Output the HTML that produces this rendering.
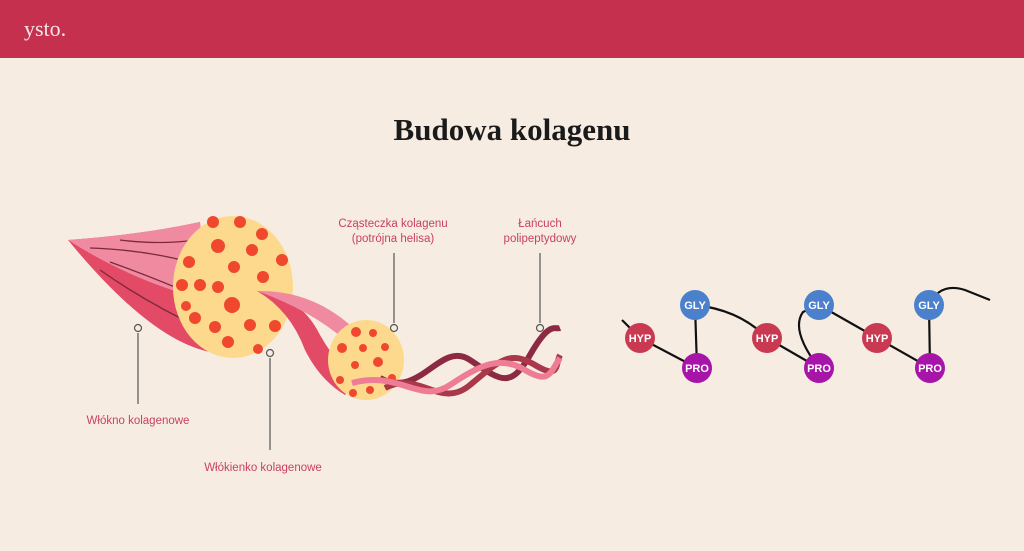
<!DOCTYPE html>
<html><head><meta charset="utf-8"><style>
body{margin:0;width:1024px;height:546px;overflow:hidden;background:#f6ece2;font-family:"Liberation Sans",sans-serif}
</style></head><body>
<svg width="1024" height="546" viewBox="0 0 1024 546" xmlns="http://www.w3.org/2000/svg">
<rect width="1024" height="546" fill="#f6ece2"/>
<rect width="1024" height="58" fill="#c5304f"/>
<text x="24" y="36" font-family="Liberation Serif,serif" font-size="22" fill="#f6e6e6">ysto.</text>
<text x="512" y="140" text-anchor="middle" font-family="Liberation Serif,serif" font-size="31" font-weight="bold" fill="#1a1a1a">Budowa kolagenu</text>

<!-- big fiber -->
<path d="M68,240 Q140,235 200,222 L210,352 Q150,340 68,240 Z" fill="#e24a66"/>
<path d="M68,240 Q140,235 200,222 L205,300 Q130,280 68,240 Z" fill="#f08aa0"/>
<path d="M90,248 Q150,250 200,265 M110,262 Q160,280 205,300 M120,240 Q160,245 196,240 M100,270 Q150,305 205,330" stroke="#7a2a3a" stroke-width="1.3" fill="none"/>
<ellipse cx="233" cy="287" rx="60" ry="71" fill="#fcd98c"/>
<g fill="#f0482f">
<circle cx="213" cy="222" r="6"/><circle cx="240" cy="222" r="6"/><circle cx="262" cy="234" r="6"/>
<circle cx="218" cy="246" r="7"/><circle cx="252" cy="250" r="6"/><circle cx="282" cy="260" r="6"/>
<circle cx="189" cy="262" r="6"/><circle cx="234" cy="267" r="6"/><circle cx="263" cy="277" r="6"/>
<circle cx="200" cy="285" r="6"/><circle cx="232" cy="305" r="8"/><circle cx="182" cy="285" r="6"/>
<circle cx="195" cy="318" r="6"/><circle cx="215" cy="327" r="6"/><circle cx="250" cy="325" r="6"/>
<circle cx="275" cy="326" r="6"/><circle cx="228" cy="342" r="6"/><circle cx="258" cy="349" r="5"/>
<circle cx="186" cy="306" r="5"/><circle cx="218" cy="287" r="6"/>
</g>
<!-- small fiber -->
<path d="M257,291 Q300,295 320,335 Q340,370 360,380 L345,395 Q320,380 305,350 Q290,310 257,291 Z" fill="#e24a66"/>
<path d="M257,291 Q310,290 350,325 L345,340 Q310,310 257,291 Z" fill="#f08aa0"/>
<ellipse cx="366" cy="360" rx="38" ry="40" fill="#fcd98c"/>
<g fill="#f0482f">
<circle cx="356" cy="332" r="5"/><circle cx="373" cy="333" r="4"/><circle cx="342" cy="348" r="5"/>
<circle cx="363" cy="348" r="4"/><circle cx="385" cy="347" r="4"/><circle cx="378" cy="362" r="5"/>
<circle cx="355" cy="365" r="4"/><circle cx="340" cy="380" r="4"/><circle cx="370" cy="390" r="4"/>
<circle cx="392" cy="378" r="4"/><circle cx="353" cy="393" r="4"/>
</g>
<!-- helix -->
<path d="M380,378 C420,400 440,340 470,360 S510,390 530,355 S555,330 560,328" stroke="#8c2a44" stroke-width="6" fill="none"/>
<path d="M385,388 C420,370 440,410 470,385 S510,350 535,365 S555,365 560,355" stroke="#a8384a" stroke-width="6" fill="none"/>
<path d="M352,383 C400,370 420,405 450,385 S500,355 525,370 S550,372 560,358" stroke="#ef7c95" stroke-width="6" fill="none"/>

<!-- label lines -->
<g stroke="#555" stroke-width="1.2" fill="#f6ece2">
<line x1="138" y1="333" x2="138" y2="404"/><circle cx="138" cy="328" r="3.5"/>
<line x1="270" y1="358" x2="270" y2="450"/><circle cx="270" cy="353" r="3.5"/>
<line x1="394" y1="253" x2="394" y2="323"/><circle cx="394" cy="328" r="3.5"/>
<line x1="540" y1="253" x2="540" y2="323"/><circle cx="540" cy="328" r="3.5"/>
</g>
<g font-size="11.5" fill="#c8425e" text-anchor="middle">
<text x="138" y="424">Włókno kolagenowe</text>
<text x="263" y="471">Włókienko kolagenowe</text>
<text x="393" y="227">Cząsteczka kolagenu</text>
<text x="393" y="242">(potrójna helisa)</text>
<text x="540" y="227">Łańcuch</text>
<text x="540" y="242">polipeptydowy</text>
</g>

<!-- chain -->
<g stroke="#111" stroke-width="2.2" fill="none">
<path d="M622,320 L640,338 L697,368 L695,305 Q740,310 767,338 L819,368 Q790,330 803,312 L819,305 L877,338 L930,368 L929,305 Q940,282 965,290 L990,300"/>
</g>
<g font-size="11" font-weight="bold" fill="#fff" text-anchor="middle">
<circle cx="640" cy="338" r="15" fill="#c93a52"/><text x="640" y="342">HYP</text>
<circle cx="767" cy="338" r="15" fill="#c93a52"/><text x="767" y="342">HYP</text>
<circle cx="877" cy="338" r="15" fill="#c93a52"/><text x="877" y="342">HYP</text>
<circle cx="695" cy="305" r="15" fill="#4a80cc"/><text x="695" y="309">GLY</text>
<circle cx="819" cy="305" r="15" fill="#4a80cc"/><text x="819" y="309">GLY</text>
<circle cx="929" cy="305" r="15" fill="#4a80cc"/><text x="929" y="309">GLY</text>
<circle cx="697" cy="368" r="15" fill="#a614a8"/><text x="697" y="372">PRO</text>
<circle cx="819" cy="368" r="15" fill="#a614a8"/><text x="819" y="372">PRO</text>
<circle cx="930" cy="368" r="15" fill="#a614a8"/><text x="930" y="372">PRO</text>
</g>
</svg>
</body></html>
